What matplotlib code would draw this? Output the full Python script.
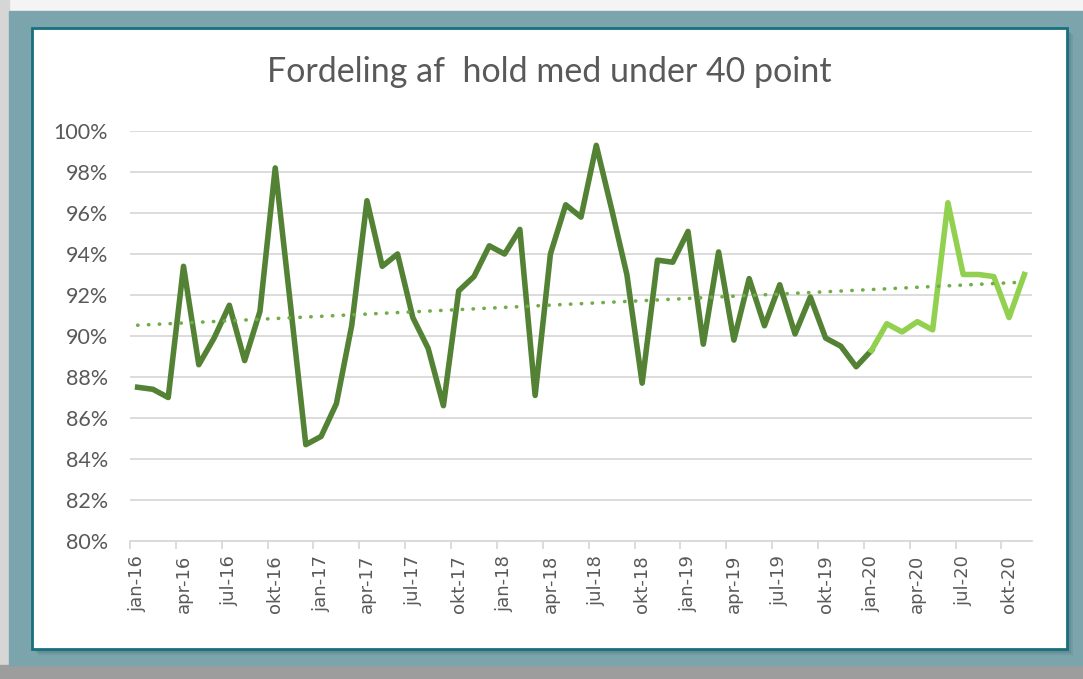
import numpy as np
import matplotlib.pyplot as plt
from matplotlib.patches import Rectangle

W, H = 1083, 679

months = ["jan", "feb", "mar", "apr", "maj", "jun", "jul", "aug", "sep", "okt", "nov", "dec"]
years = [16, 17, 18, 19, 20]
labels = [f"{m}-{y}" for y in years for m in months][:59]  # jan-16 .. nov-20

# share of teams under 40 points (%)
dark_vals = [87.5, 87.4, 87.0, 93.4, 88.6, 89.9, 91.5, 88.8, 91.2, 98.2,
             91.5, 84.7, 85.1, 86.7, 90.5, 96.6, 93.4, 94.0, 90.9, 89.4,
             86.6, 92.2, 92.9, 94.4, 94.0, 95.2, 87.1, 94.0, 96.4, 95.8,
             99.3, 96.2, 93.0, 87.7, 93.7, 93.6, 95.1, 89.6, 94.1, 89.8,
             92.8, 90.5, 92.5, 90.1, 91.9, 89.9, 89.5, 88.5, 89.3]
light_vals = [89.3, 90.6, 90.2, 90.7, 90.3, 96.5, 93.0, 93.0, 92.9, 90.9, 93.0]

all_vals = np.array(dark_vals + light_vals[1:])
n = len(all_vals)
x_all = np.arange(n)
x_dark = np.arange(len(dark_vals))
x_light = np.arange(len(dark_vals) - 1, n)

coef = np.polyfit(x_all, all_vals, 1)
trend = np.polyval(coef, x_all)


def fx(px):
    return px / W


def fy(py):
    return 1 - py / H


fig = plt.figure(figsize=(W / 100, H / 100), dpi=100, facecolor="#f4f4f4")

# outer frame / shadows
fig.add_artist(Rectangle((0, 0), fx(9), 1, transform=fig.transFigure, color="#d6d6d6", zorder=0))
fig.add_artist(Rectangle((0, 0), 1, fy(665), transform=fig.transFigure, color="#9d9d9d", zorder=0))
fig.add_artist(Rectangle((fx(9), fy(665)), 1, fy(11) - fy(665), transform=fig.transFigure,
                         color="#7ca4ac", zorder=1))
for off, a in [(6, 0.10), (4, 0.15), (2, 0.2)]:
    fig.add_artist(Rectangle((fx(32 + off), fy(649 + off)), fx(1067) - fx(32), fy(28) - fy(649),
                             transform=fig.transFigure, color="#2a4a50", alpha=a, lw=0, zorder=1))
fig.add_artist(Rectangle((fx(32), fy(649)), fx(1067) - fx(32), fy(28) - fy(649),
                         transform=fig.transFigure, facecolor="white", edgecolor="#17707c",
                         lw=2, zorder=2))

ax = fig.add_axes([fx(130), fy(541), fx(1032) - fx(130), fy(131) - fy(541)])
ax.set_zorder(3)
ax.patch.set_alpha(0)

ax.plot(x_dark, dark_vals, color="#548235", lw=4, solid_joinstyle="round", zorder=3)
ax.plot(x_light, light_vals, color="#92d050", lw=4, solid_joinstyle="round", zorder=3)
ax.plot(x_all, trend, color="#70ad47", lw=2.6, linestyle=(0, (0.1, 2.9)),
        dash_capstyle="round", zorder=4)

ax.set_xlim(-0.5, n - 0.5)
ax.set_ylim(80, 100)
ax.set_yticks(np.arange(80, 101, 2))
ax.set_yticklabels([f"{v}%" for v in range(80, 101, 2)], family="Lato", fontsize=15.5,
                   color="#595959")
ax.yaxis.grid(True, color="#d9d9d9", lw=1.3)
ax.set_axisbelow(True)
ax.tick_params(axis="y", length=0, pad=16)

ax.set_xticks(np.arange(-0.5, n, 3), minor=True)
ax.set_xticks(np.arange(0, n, 3))
ax.set_xticklabels(labels[::3], rotation=90, family="DejaVu Sans", fontsize=13,
                   color="#595959")
ax.tick_params(axis="x", which="major", length=0, pad=10)
ax.tick_params(axis="x", which="minor", length=6, color="#d9d9d9", width=1.3)

for s in ["top", "right", "left"]:
    ax.spines[s].set_visible(False)
ax.spines["bottom"].set_color("#d9d9d9")
ax.spines["bottom"].set_linewidth(1.3)

fig.text(fx(549), fy(72), "Fordeling af  hold med under 40 point", ha="center", va="center",
         family="Lato", fontsize=24.5, color="#595959", zorder=5)

fig.savefig("out.png", dpi=100, facecolor=fig.get_facecolor())
